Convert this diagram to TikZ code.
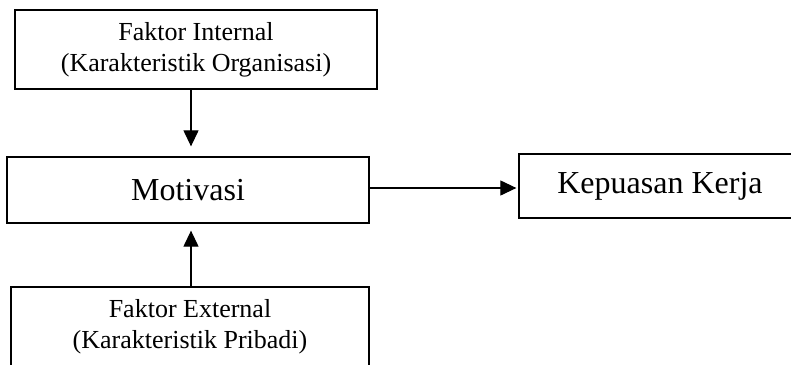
\documentclass[tikz,border=0pt]{standalone}
\usepackage{fontspec}
\setmainfont{Liberation Serif}
\usepackage{tikz}
\usetikzlibrary{arrows.meta, positioning, calc}

\begin{document}
\begin{tikzpicture}[x=1pt, y=-1pt,
  box/.style={draw, line width=1.3pt, align=center, inner sep=0pt},
  smallbox/.style={box, font=\fontsize{26}{31}\selectfont},
  bigbox/.style={box, font=\fontsize{32}{36}\selectfont},
  arr/.style={line width=1.2pt, -{Triangle[length=16pt, width=15pt]}}]
\useasboundingbox (0,0) rectangle (791,364);

% Faktor boxes
\node[smallbox, minimum width=362pt, minimum height=79pt] (internal) at (196,49.5) {Faktor Internal\\(Karakteristik Organisasi)};
\node[smallbox, minimum width=358pt, minimum height=79pt] (external) at (190,326.5) {Faktor External\\(Karakteristik Pribadi)};

% Motivasi and Kepuasan Kerja
\node[bigbox, minimum width=362pt, minimum height=66pt] (motivasi) at (188,190) {Motivasi};
\node[bigbox, minimum width=282pt, minimum height=64pt] (kepuasan) at (660,186) {Kepuasan Kerja};

\draw[arr, shorten >=10pt] ([xshift=-5pt]internal.south) -- ([xshift=3pt]motivasi.north);
\draw[arr, shorten >=7pt] ([xshift=1pt]external.north) -- ([xshift=3pt]motivasi.south);
\draw[arr, shorten <=-1pt, shorten >=2pt] ([yshift=2pt]motivasi.east) -- ([yshift=-2pt]kepuasan.west);
\end{tikzpicture}
\end{document}
